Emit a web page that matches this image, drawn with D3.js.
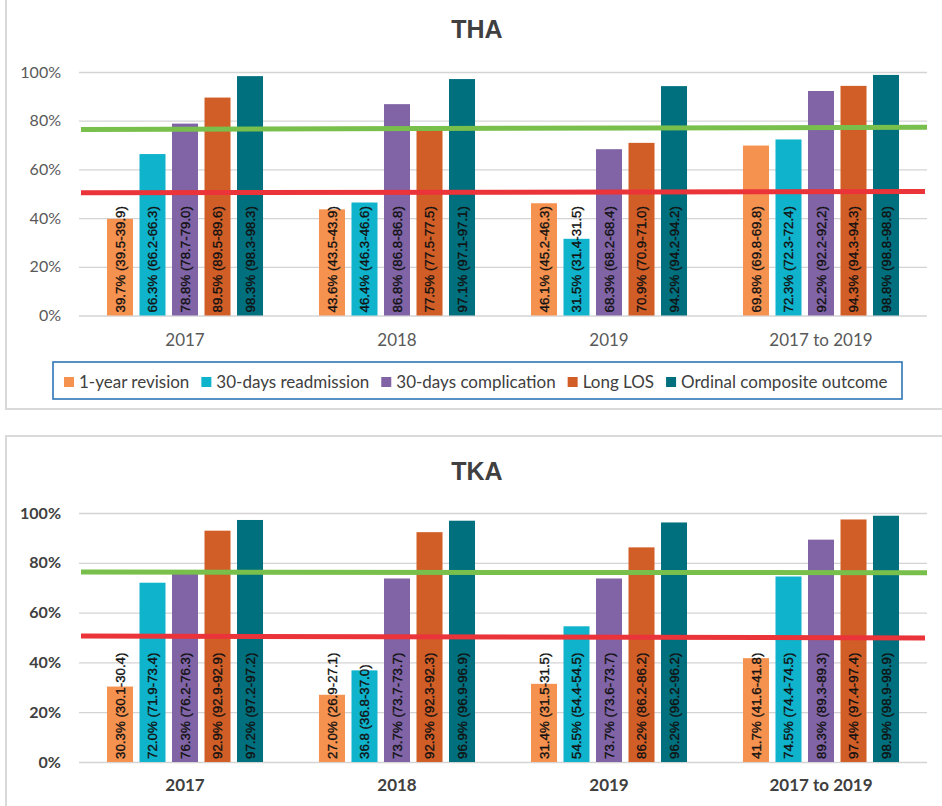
<!DOCTYPE html>
<html>
<head>
<meta charset="utf-8">
<script src="https://cdn.jsdelivr.net/npm/d3@7"></script>
<style>
  html, body { margin: 0; padding: 0; background: #ffffff; }
  svg { display: block; }
  text { font-family: Lato, "Liberation Sans", Arial, sans-serif; }
</style>
</head>
<body>
<svg id="chart" width="942" height="806"></svg>
<script>
// ---------- DATA ----------
const categories = ["2017", "2018", "2019", "2017 to 2019"];
const seriesNames = ["1-year revision", "30-days readmission", "30-days complication", "Long LOS", "Ordinal composite outcome"];
const seriesColors = ["#F6924F", "#0FB3CC", "#8064A6", "#D25E27", "#006F7E"];
const yTicks = [0, 0.2, 0.4, 0.6, 0.8, 1.0];

// THA values (%) per series, one entry per category
const thaRevision      = [39.7, 43.6, 46.1, 69.8];
const thaReadmission   = [66.3, 46.4, 31.5, 72.3];
const thaComplication  = [78.8, 86.8, 68.3, 92.2];
const thaLongLOS       = [89.5, 77.5, 70.9, 94.3];
const thaOrdinal       = [98.3, 97.1, 94.2, 98.8];
// THA bar labels
const thaRevisionLbl     = ["39.7% (39.5-39.9)", "43.6% (43.5-43.9)", "46.1% (45.2-46.3)", "69.8% (69.8-69.8)"];
const thaReadmissionLbl  = ["66.3% (66.2-66.3)", "46.4% (46.3-46.6)", "31.5% (31.4-31.5)", "72.3% (72.3-72.4)"];
const thaComplicationLbl = ["78.8% (78.7-79.0)", "86.8% (86.8-86.8)", "68.3% (68.2-68.4)", "92.2% (92.2-92,2)"];
const thaLongLOSLbl      = ["89.5% (89.5-89.6)", "77.5% (77.5-77.5)", "70.9% (70.9-71.0)", "94.3% (94.3-94.3)"];
const thaOrdinalLbl      = ["98.3% (98.3-98.3)", "97.1% (97.1-97.1)", "94.2% (94.2-94.2)", "98.8% (98.8-98.8)"];

// TKA values (%)
const tkaRevision      = [30.3, 27.0, 31.4, 41.7];
const tkaReadmission   = [72.0, 36.8, 54.5, 74.5];
const tkaComplication  = [76.3, 73.7, 73.7, 89.3];
const tkaLongLOS       = [92.9, 92.3, 86.2, 97.4];
const tkaOrdinal       = [97.2, 96.9, 96.2, 98.9];
// TKA bar labels
const tkaRevisionLbl     = ["30.3% (30.1-30.4)", "27.0% (26.9-27.1)", "31.4% (31.5-31.5)", "41.7% (41.6-41.8)"];
const tkaReadmissionLbl  = ["72.0% (71.9-73.4)", "36.8 (36.8-37.0)", "54.5% (54.4-54.5)", "74.5% (74.4-74.5)"];
const tkaComplicationLbl = ["76.3% (76.2-76.3)", "73.7% (73.7-73.7)", "73.7% (73.6-73.7)", "89.3% (89.3-89.3)"];
const tkaLongLOSLbl      = ["92.9% (92.9-92.9)", "92.3% (92.3-92.3)", "86.2% (86.2-86.2)", "97.4% (97.4-97.4)"];
const tkaOrdinalLbl      = ["97.2% (97.2-97.2)", "96.9% (96.9-96.9)", "96.2% (96.2-96.2)", "98.9% (98.9-98.9)"];

// Reference lines drawn over the charts (value % at left end, at right end)
const thaGreenLine = [76.4, 77.3];
const thaRedLine   = [50.4, 50.9];
const tkaGreenLine = [76.3, 76.0];
const tkaRedLine   = [50.6, 49.8];

// ---------- DRAW ----------
const svg = d3.select("#chart");
const plotLeft = 79, plotRight = 927;

function buildRows(vals, lbls) {
  const rows = [];
  categories.forEach((c, ci) => {
    seriesNames.forEach((s, si) => {
      rows.push({ cat: c, series: s, idx: si, value: vals[si][ci] / 100, label: lbls[si][ci] });
    });
  });
  return rows;
}

function drawPanel(cfg) {
  const g = svg.append("g");
  const bold = cfg.boldAxis;

  // panel border
  g.append("path")
    .attr("d", cfg.borderPath)
    .attr("fill", "none").attr("stroke", "#D9D9D9").attr("stroke-width", 2);

  const x0 = d3.scaleBand().domain(categories).range([plotLeft, plotRight])
    .paddingInner(0.264).paddingOuter(0.132);
  const x1 = d3.scaleBand().domain(seriesNames).range([0, x0.bandwidth()])
    .paddingInner(0.2).paddingOuter(0);
  const y = d3.scaleLinear().domain([0, 1]).range([cfg.yBottom, cfg.yTop]);

  // gridlines
  const grid = g.append("g").attr("transform", `translate(${plotLeft},0)`)
    .call(d3.axisLeft(y).tickValues(yTicks).tickSize(-(plotRight - plotLeft)).tickFormat(""));
  grid.select(".domain").remove();
  grid.selectAll("line").attr("stroke", "#D4D4D4").attr("stroke-width", 1.3);

  // y axis labels
  const yAx = g.append("g").attr("transform", `translate(${plotLeft},0)`)
    .call(d3.axisLeft(y).tickValues(yTicks).tickSize(0).tickPadding(18).tickFormat(d3.format(".0%")));
  yAx.select(".domain").remove();
  yAx.selectAll("text")
    .style("font-family", "Lato, 'Liberation Sans', sans-serif")
    .style("font-size", "16px")
    .style("font-weight", bold ? 700 : 400)
    .attr("fill", bold ? "#404040" : "#595959");

  // x axis labels
  const xAx = g.append("g").attr("transform", `translate(0,${cfg.yBottom})`)
    .call(d3.axisBottom(x0).tickSize(0).tickPadding(bold ? 17 : 18));
  xAx.select(".domain").remove();
  xAx.selectAll("text")
    .style("font-family", "Lato, 'Liberation Sans', sans-serif")
    .style("font-size", "17px")
    .style("font-weight", bold ? 700 : 400)
    .attr("fill", bold ? "#404040" : "#595959");

  // bars
  const rows = buildRows(cfg.values, cfg.labels);
  g.append("g").selectAll("rect").data(rows).join("rect")
    .attr("x", d => x0(d.cat) + x1(d.series))
    .attr("width", x1.bandwidth())
    .attr("y", d => y(d.value))
    .attr("height", d => y(0) - y(d.value))
    .attr("fill", d => seriesColors[d.idx]);

  // reference lines
  const lineGen = d3.line().x(d => d[0]).y(d => y(d[1] / 100));
  g.append("path")
    .attr("d", lineGen([[plotLeft + 2, cfg.green[0]], [plotRight, cfg.green[1]]]))
    .attr("stroke", "#79BF4C").attr("stroke-width", 5).attr("fill", "none");
  g.append("path")
    .attr("d", lineGen([[plotLeft + 2, cfg.red[0]], [plotRight - 2, cfg.red[1]]]))
    .attr("stroke", "#EA3439").attr("stroke-width", 5).attr("fill", "none");

  // bar labels (rotated)
  const fs = 13.3;
  g.append("g").selectAll("text").data(rows).join("text")
    .attr("transform", d => {
      const cx = x0(d.cat) + x1(d.series) + x1.bandwidth() / 2 + fs * 0.37;
      return `translate(${cx},${y(0) - 3}) rotate(-90)`;
    })
    .attr("text-anchor", "start")
    .style("font-family", "'Liberation Sans', Arial, sans-serif")
    .style("font-size", fs + "px")
    .attr("fill", "#111111")
    .attr("stroke", "#111111").attr("stroke-width", 0.35)
    .text(d => d.label);

  // title
  g.append("text")
    .attr("x", 477).attr("y", cfg.titleY)
    .attr("text-anchor", "middle")
    .style("font-family", "'Liberation Sans', Arial, sans-serif")
    .style("font-size", "25px").style("font-weight", 700)
    .attr("fill", "#404040")
    .text(cfg.title);

  return { x0, y };
}

drawPanel({
  title: "THA", titleY: 38,
  yTop: 72, yBottom: 315.5, boldAxis: false,
  borderPath: "M6,0 L6,409 L942,409",
  values: [thaRevision, thaReadmission, thaComplication, thaLongLOS, thaOrdinal],
  labels: [thaRevisionLbl, thaReadmissionLbl, thaComplicationLbl, thaLongLOSLbl, thaOrdinalLbl],
  green: thaGreenLine, red: thaRedLine
});

drawPanel({
  title: "TKA", titleY: 480,
  yTop: 513, yBottom: 762, boldAxis: true,
  borderPath: "M6,806 L6,436 L942,436",
  values: [tkaRevision, tkaReadmission, tkaComplication, tkaLongLOS, tkaOrdinal],
  labels: [tkaRevisionLbl, tkaReadmissionLbl, tkaComplicationLbl, tkaLongLOSLbl, tkaOrdinalLbl],
  green: tkaGreenLine, red: tkaRedLine
});

// legend (top chart only)
const lg = svg.append("g");
lg.append("rect")
  .attr("x", 53).attr("y", 362).attr("width", 849).attr("height", 37)
  .attr("fill", "#ffffff").attr("stroke", "#2E75B6").attr("stroke-width", 1.6);
let lx = 64;
seriesNames.forEach((s, i) => {
  lg.append("rect").attr("x", lx).attr("y", 377).attr("width", 10).attr("height", 10)
    .attr("fill", seriesColors[i]);
  const t = lg.append("text").attr("x", lx + 15).attr("y", 388)
    .style("font-family", "Lato, 'Liberation Sans', sans-serif")
    .style("font-size", "17px").attr("fill", "#404040")
    .text(s);
  lx += 15 + t.node().getComputedTextLength() + 12;
});
</script>
</body>
</html>
